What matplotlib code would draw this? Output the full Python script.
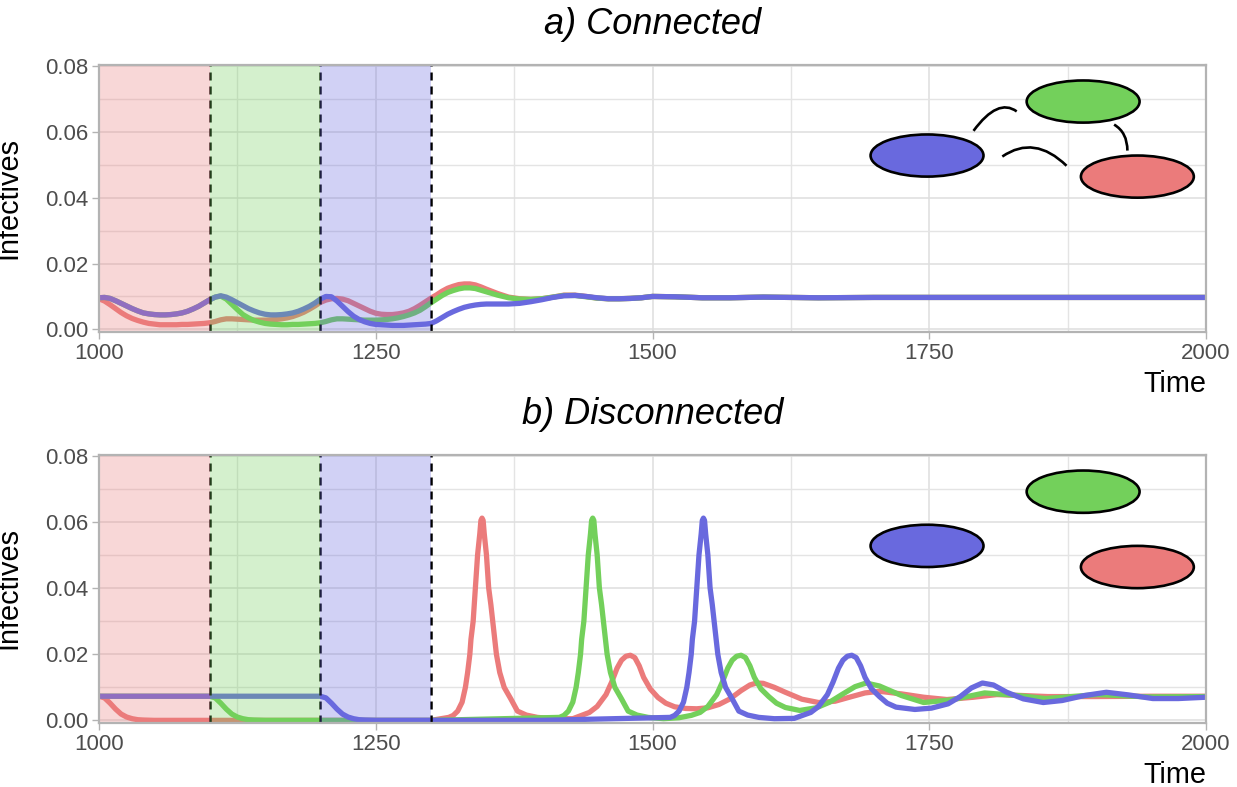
# Imports
import matplotlib
matplotlib.use('Agg')
import matplotlib.pyplot as plt
from matplotlib.patches import Ellipse, PathPatch
from matplotlib.path import Path
from matplotlib.ticker import MultipleLocator

plt.rcParams['font.family'] = 'Liberation Sans'

colors = {'red': '#EB7B7B', 'green': '#73D05B', 'blue': '#6969DE'}

# a) Connected, values
time_a = [1000, 1005, 1010, 1015, 1020, 1025, 1030, 1035, 1040, 1045,
          1050, 1055, 1060, 1065, 1070, 1075, 1080, 1085, 1090, 1095,
          1100, 1105, 1110, 1115, 1120, 1125, 1130, 1135, 1140, 1145,
          1150, 1155, 1160, 1165, 1170, 1175, 1180, 1185, 1190, 1195,
          1200, 1205, 1210, 1215, 1220, 1225, 1230, 1235, 1240, 1245,
          1250, 1255, 1260, 1265, 1270, 1275, 1280, 1285, 1290, 1295,
          1300, 1305, 1310, 1315, 1320, 1325, 1330, 1335, 1340, 1345,
          1350, 1360, 1370, 1380, 1390, 1400, 1410, 1420, 1430, 1440,
          1450, 1460, 1470, 1480, 1490, 1500, 1520, 1545, 1570, 1600,
          1650, 1700, 1800, 1900, 2000]
red_a = [.0093, .0086, .0075, .0063, .0051, .0041, .0033, .0027, .0022, .0018,
         .0016, .0014, .0014, .0014, .0014, .0015, .0015, .0016, .0017, .0018,
         .0020, .0024, .0029, .0032, .0032, .0031, .0030, .0029, .0028, .0028,
         .0028, .0029, .0030, .0032, .0035, .0039, .0045, .0052, .0061, .0071,
         .0082, .0089, .0093, .0094, .0092, .0087, .0079, .0071, .0063, .0055,
         .0049, .0046, .0045, .0045, .0047, .0050, .0055, .0063, .0073, .0084,
         .0095, .0105, .0116, .0125, .0131, .0136, .0138, .0138, .0135, .0129,
         .0122, .0109, .0098, .0093, .0091, .0093, .0098, .0104, .0104, .0100,
         .0095, .0093, .0093, .0094, .0096, .0100, .0099, .0096, .0096, .0098,
         .0096, .0097, .0097, .0097, .0097]
green_a = [.0096, .0097, .0094, .0087, .0079, .0071, .0063, .0056, .0050, .0047,
           .0045, .0044, .0044, .0045, .0047, .0050, .0055, .0062, .0070, .0080,
           .0090, .0098, .0101, .0092, .0076, .0060, .0045, .0035, .0027, .0022,
           .0018, .0016, .0015, .0014, .0014, .0015, .0015, .0016, .0017, .0018,
           .0020, .0024, .0029, .0032, .0032, .0031, .0030, .0029, .0028, .0028,
           .0028, .0029, .0030, .0032, .0035, .0039, .0044, .0050, .0058, .0069,
           .0081, .0092, .0103, .0112, .0118, .0123, .0126, .0126, .0124, .0119,
           .0114, .0104, .0096, .0092, .0091, .0093, .0098, .0103, .0103, .0099,
           .0095, .0093, .0093, .0094, .0096, .0100, .0099, .0096, .0096, .0098,
           .0096, .0097, .0097, .0097, .0097]
blue_a = [.0096, .0097, .0094, .0087, .0079, .0071, .0063, .0056, .0050, .0047,
          .0045, .0044, .0044, .0045, .0047, .0050, .0055, .0062, .0070, .0080,
          .0090, .0098, .0102, .0098, .0090, .0081, .0072, .0063, .0056, .0050,
          .0046, .0044, .0044, .0045, .0047, .0050, .0055, .0062, .0070, .0080,
          .0092, .0100, .0099, .0086, .0070, .0054, .0040, .0030, .0023, .0018,
          .0015, .0014, .0013, .0012, .0012, .0012, .0013, .0014, .0015, .0016,
          .0018, .0026, .0036, .0046, .0054, .0061, .0067, .0071, .0074, .0076,
          .0077, .0077, .0077, .0079, .0084, .0090, .0097, .0102, .0103, .0100,
          .0096, .0093, .0093, .0094, .0096, .0100, .0099, .0096, .0096, .0098,
          .0096, .0097, .0097, .0097, .0097]

# b) Disconnected, each series has its own time points around the peaks
time_red_b = [1000, 1005, 1010, 1015, 1020, 1025, 1030, 1035, 1040, 1050, 1100, 1200, 1300,
              1316, 1320, 1324, 1328, 1331, 1333, 1335, 1336, 1338, 1340, 1342, 1344, 1345, 1346,
              1347, 1348, 1350, 1352, 1354, 1357, 1359, 1362, 1366, 1372, 1378, 1386, 1396, 1410,
              1428, 1443, 1450, 1458, 1463, 1468, 1472, 1476, 1480, 1484, 1488, 1492, 1498, 1505,
              1512, 1520, 1530, 1540, 1550, 1560, 1570, 1580, 1588, 1594, 1600, 1610, 1620, 1635,
              1650, 1665, 1680, 1692, 1705, 1725, 1745, 1766, 1790, 1811, 1835, 1857, 1900, 1950, 2000]
red_b = [.0073, .0068, .0052, .0034, .0019, .0010, .0005, .0002, .0001, 0, 0, 0, 0,
         .0009, .0015, .0028, .0055, .0100, .0145, .0200, .0245, .0300, .0401, .0501, .0565, .0605, .0612,
         .0605, .0565, .0501, .0401, .0350, .0260, .0200, .0145, .0100, .0065, .0028, .0016, .0009, .0005,
         .0005, .0024, .0042, .0078, .0115, .0158, .0182, .0194, .0197, .0190, .0165, .0130, .0095, .0069,
         .0052, .0041, .0036, .0035, .0038, .0048, .0065, .0090, .0107, .0113, .0112, .0100, .0085, .0064,
         .0054, .0058, .0072, .0083, .0088, .0080, .0070, .0063, .0070, .0078, .0075, .0072, .0072, .0073, .0073]
time_green_b = [1000, 1100, 1105, 1110, 1115, 1120, 1125, 1130, 1135, 1140, 1150, 1300,
                1416, 1420, 1424, 1428, 1431, 1433, 1435, 1436, 1438, 1440, 1442, 1444, 1445, 1446,
                1447, 1448, 1450, 1452, 1454, 1457, 1459, 1462, 1466, 1472, 1478, 1486, 1496, 1510,
                1524, 1535, 1543, 1550, 1558, 1563, 1568, 1572, 1576, 1580, 1584, 1588, 1592, 1598,
                1605, 1612, 1620, 1633, 1648, 1660, 1672, 1683, 1693, 1705, 1725, 1745,
                1770, 1800, 1830, 1855, 1902, 1947, 2000]
green_b = [.0073, .0073, .0068, .0052, .0034, .0019, .0010, .0005, .0002, .0001, 0, 0,
           .0009, .0015, .0028, .0055, .0100, .0145, .0200, .0245, .0300, .0401, .0501, .0565, .0605, .0612,
           .0605, .0565, .0501, .0401, .0350, .0260, .0200, .0145, .0100, .0065, .0028, .0016, .0009, .0005,
           .0008, .0015, .0024, .0042, .0078, .0115, .0158, .0182, .0194, .0197, .0190, .0165, .0130, .0095,
           .0072, .0052, .0039, .0030, .0038, .0055, .0080, .0102, .0113, .0104, .0075, .0054,
           .0062, .0083, .0075, .0066, .0078, .0071, .0072]
time_blue_b = [1000, 1200, 1205, 1210, 1215, 1220, 1225, 1230, 1235, 1240, 1250, 1400,
               1516, 1520, 1524, 1528, 1531, 1533, 1535, 1536, 1538, 1540, 1542, 1544, 1545, 1546,
               1547, 1548, 1550, 1552, 1554, 1557, 1559, 1562, 1566, 1572, 1578, 1586, 1596, 1610,
               1628, 1643, 1650, 1658, 1663, 1668, 1672, 1676, 1680, 1684, 1688, 1692, 1698,
               1705, 1712, 1720, 1737, 1752, 1767, 1778, 1788, 1798, 1808, 1820, 1835, 1853,
               1870, 1890, 1910, 1930, 1952, 1975, 2000]
blue_b = [.0073, .0073, .0068, .0052, .0034, .0019, .0010, .0005, .0002, .0001, 0, 0,
          .0009, .0015, .0028, .0055, .0100, .0145, .0200, .0245, .0300, .0401, .0501, .0565, .0605, .0612,
          .0605, .0565, .0501, .0401, .0350, .0260, .0200, .0145, .0100, .0065, .0028, .0016, .0009, .0005,
          .0006, .0024, .0042, .0078, .0115, .0158, .0182, .0194, .0197, .0190, .0165, .0130, .0095,
          .0072, .0052, .0040, .0033, .0037, .0050, .0072, .0098, .0113, .0107, .0085, .0065, .0054,
          .0060, .0075, .0085, .0077, .0066, .0066, .0070]

x_ticks = [1000, 1250, 1500, 1750, 2000]
y_ticks = [0.00, 0.02, 0.04, 0.06, 0.08]

# Removal periods and the patch schematic (in data units)
periods = [(1000, 1100, 'red'), (1100, 1200, 'green'), (1200, 1300, 'blue')]
patch_x = {'blue': 1748, 'green': 1889, 'red': 1938}
patch_y = {'blue': .0528, 'green': .0692, 'red': .0464}
links = [((1790, .0603), (1812, .0704), (1829, .0662)),
         ((1816, .0525), (1845, .0592), (1874, .0497)),
         ((1917, .0622), (1929, .0598), (1929, .0543))]


def draw_panel(ax, title, series, show_links):
    for t, y, c in series:
        ax.plot(t, y, color=colors[c], lw=3.8, zorder=3, solid_joinstyle='round')
    for x in [1100, 1200, 1300]:
        ax.axvline(x, color='black', lw=1.8, ls=(0, (3.2, 2.4)), zorder=4)
    # shading goes on top of the lines, that is what tints them
    for x0, x1, c in periods:
        ax.axvspan(x0, x1, color=colors[c], alpha=0.3, lw=0, zorder=5)

    for c in patch_x:
        ax.add_patch(Ellipse((patch_x[c], patch_y[c]), 102, .0128, facecolor=colors[c],
                             edgecolor='black', lw=1.9, zorder=6))
    if show_links:
        for p0, p1, p2 in links:
            ax.add_patch(PathPatch(Path([p0, p1, p2], [Path.MOVETO, Path.CURVE3, Path.CURVE3]),
                                   fill=False, edgecolor='black', lw=1.9, zorder=6))

    ax.set_xlim(1000, 2000)
    ax.set_ylim(-0.0008, 0.0803)
    ax.set_xticks(x_ticks)
    ax.set_yticks(y_ticks)
    ax.set_yticklabels(['%.2f' % v for v in y_ticks])
    ax.xaxis.set_minor_locator(MultipleLocator(125))
    ax.yaxis.set_minor_locator(MultipleLocator(0.01))
    ax.grid(True, which='major', color='#DEDEDE', lw=1.1, zorder=0)
    ax.grid(True, which='minor', color='#E4E4E4', lw=1.0, zorder=0)
    ax.set_axisbelow(True)
    ax.tick_params(which='minor', length=0)
    ax.tick_params(axis='x', which='major', length=4.8, width=1, color='#B3B3B3',
                   labelcolor='#4D4D4D', labelsize=16, pad=3)
    ax.tick_params(axis='y', which='major', length=4.8, width=1, color='#B3B3B3',
                   labelcolor='#4D4D4D', labelsize=16, pad=2.5)
    for s in ax.spines.values():
        s.set_color('#B3B3B3')
        s.set_linewidth(1.6)
        s.set_zorder(7)
    ax.set_ylabel('Infectives', fontsize=20.8, color='black')
    ax.yaxis.set_label_coords(-0.0696, 0.502)
    ax.set_title(title, fontsize=26, style='italic', pad=22)
    ax.text(1.0, -0.195, 'Time', transform=ax.transAxes, ha='right', va='center', fontsize=20.8)


W, H = 1237, 787
fig = plt.figure(figsize=(W / 100, H / 100), dpi=100)
ax_a = fig.add_axes([99 / W, 1 - 332 / H, 1107 / W, 267 / H])
ax_b = fig.add_axes([99 / W, 1 - 723 / H, 1107 / W, 268 / H])

draw_panel(ax_a, 'a) Connected',
           [(time_a, red_a, 'red'), (time_a, green_a, 'green'), (time_a, blue_a, 'blue')], True)
draw_panel(ax_b, 'b) Disconnected',
           [(time_red_b, red_b, 'red'), (time_green_b, green_b, 'green'), (time_blue_b, blue_b, 'blue')], False)

fig.savefig('out.png', dpi=100)
